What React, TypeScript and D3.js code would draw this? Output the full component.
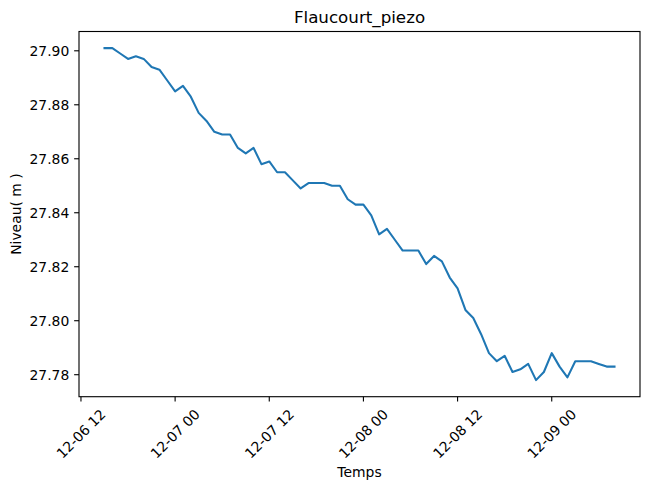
import React from "react";
import * as d3 from "d3";

const startTime = Date.UTC(2023, 11, 6, 15, 0, 0);
const stepHours = 1;
const levels: number[] = [
  27.901, 27.901, 27.899, 27.897, 27.898, 27.897, 27.894, 27.893, 27.889, 27.885,
  27.887, 27.883, 27.877, 27.874, 27.870, 27.869, 27.869, 27.864, 27.862, 27.864,
  27.858, 27.859, 27.855, 27.855, 27.852, 27.849, 27.851, 27.851, 27.851, 27.850,
  27.850, 27.845, 27.843, 27.843, 27.839, 27.832, 27.834, 27.830, 27.826, 27.826,
  27.826, 27.821, 27.824, 27.822, 27.816, 27.812, 27.804, 27.801, 27.795, 27.788,
  27.785, 27.787, 27.781, 27.782, 27.784, 27.778, 27.781, 27.788, 27.783, 27.779,
  27.785, 27.785, 27.785, 27.784, 27.783, 27.783,
];
const yTicks = [27.78, 27.8, 27.82, 27.84, 27.86, 27.88, 27.9];
const xTicks = [
  Date.UTC(2023, 11, 6, 12),
  Date.UTC(2023, 11, 7, 0),
  Date.UTC(2023, 11, 7, 12),
  Date.UTC(2023, 11, 8, 0),
  Date.UTC(2023, 11, 8, 12),
  Date.UTC(2023, 11, 9, 0),
];
const title = "Flaucourt_piezo";
const xLabel = "Temps";
const yLabel = "Niveau( m )";

const W = 649;
const H = 489;
const left = 79;
const right = 640;
const top = 31.5;
const bottom = 396.7;
const font = "DejaVu Sans, sans-serif";
const tickLen = 4.86;

export default function App() {
  const data = levels.map((v, i) => ({ t: new Date(startTime + i * stepHours * 3600e3), v }));
  const t0 = data[0].t.getTime();
  const t1 = data[data.length - 1].t.getTime();
  const dt = (t1 - t0) * 0.05;
  const x = d3.scaleUtc().domain([new Date(t0 - dt), new Date(t1 + dt)]).range([left, right]);
  const vmin = d3.min(levels)!;
  const vmax = d3.max(levels)!;
  const dv = (vmax - vmin) * 0.05;
  const y = d3.scaleLinear().domain([vmin - dv, vmax + dv]).range([bottom, top]);
  const line = d3
    .line<{ t: Date; v: number }>()
    .x((d) => x(d.t))
    .y((d) => y(d.v));
  const fmt = d3.utcFormat("%m-%d %H");
  const cx = (left + right) / 2;
  return (
    <svg width={W} height={H} style={{ position: "absolute", left: 0, top: 0, background: "#fff" }} fontFamily={font}>
      <rect x={0} y={0} width={W} height={H} fill="#fff" />
      <path d={line(data)!} fill="none" stroke="#1f77b4" strokeWidth={2.08} strokeLinejoin="round" strokeLinecap="square" />
      <rect x={left} y={top} width={right - left} height={bottom - top} fill="none" stroke="#000" strokeWidth={1.11} />
      {yTicks.map((t) => (
        <g key={t}>
          <line x1={left - tickLen} x2={left} y1={y(t)} y2={y(t)} stroke="#000" strokeWidth={1.11} />
          <text x={left - 2 * tickLen} y={y(t)} textAnchor="end" dominantBaseline="central" fontSize={13.9} fill="#000">
            {t.toFixed(2)}
          </text>
        </g>
      ))}
      {xTicks.map((t) => {
        const px = x(new Date(t));
        return (
          <g key={t}>
            <line x1={px} x2={px} y1={bottom} y2={bottom + tickLen} stroke="#000" strokeWidth={1.11} />
            <text
              transform={`translate(${px},${bottom + 37}) rotate(-45)`}
              textAnchor="middle"
              dominantBaseline="central"
              fontSize={13.9}
              fill="#000"
            >
              {fmt(new Date(t))}
            </text>
          </g>
        );
      })}
      <text x={cx} y={17} textAnchor="middle" dominantBaseline="central" fontSize={16.7} fill="#000">
        {title}
      </text>
      <text x={cx} y={472} textAnchor="middle" dominantBaseline="central" fontSize={13.9} fill="#000">
        {xLabel}
      </text>
      <text
        transform={`translate(16,${(top + bottom) / 2}) rotate(-90)`}
        textAnchor="middle"
        dominantBaseline="central"
        fontSize={13.9}
        fill="#000"
      >
        {yLabel}
      </text>
    </svg>
  );
}
